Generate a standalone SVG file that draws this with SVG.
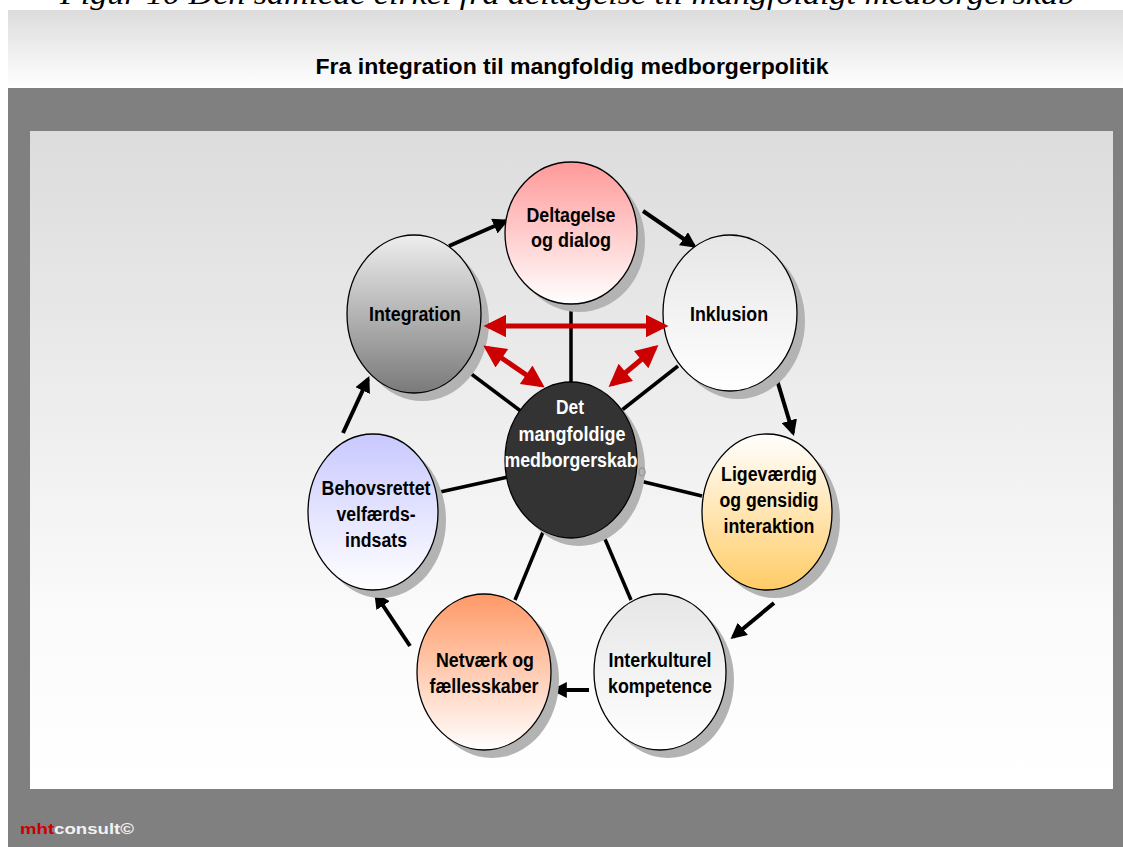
<svg xmlns="http://www.w3.org/2000/svg" width="1123" height="847" viewBox="0 0 1123 847">
<defs>
<linearGradient id="hdr" x1="0" y1="0" x2="0" y2="1"><stop offset="0" stop-color="#dcdcdc"/><stop offset="1" stop-color="#ffffff"/></linearGradient>
<linearGradient id="pnl" x1="0" y1="0" x2="0" y2="1"><stop offset="0" stop-color="#dcdcdc"/><stop offset="0.75" stop-color="#fbfbfb"/><stop offset="1" stop-color="#ffffff"/></linearGradient>
<linearGradient id="gPink" x1="0" y1="0" x2="0" y2="1"><stop offset="0" stop-color="#ff9999"/><stop offset="1" stop-color="#ffffff"/></linearGradient>
<linearGradient id="gLight" x1="0" y1="0" x2="0" y2="1"><stop offset="0" stop-color="#e6e6e6"/><stop offset="1" stop-color="#ffffff"/></linearGradient>
<linearGradient id="gGray" x1="0" y1="0" x2="0" y2="1"><stop offset="0" stop-color="#eeeeee"/><stop offset="1" stop-color="#7a7a7a"/></linearGradient>
<linearGradient id="gGold" x1="0" y1="0" x2="0" y2="1"><stop offset="0" stop-color="#ffffff"/><stop offset="1" stop-color="#ffcc66"/></linearGradient>
<linearGradient id="gBlue" x1="0" y1="0" x2="0" y2="1"><stop offset="0" stop-color="#c8c8ff"/><stop offset="1" stop-color="#ffffff"/></linearGradient>
<linearGradient id="gOrange" x1="0" y1="0" x2="0" y2="1"><stop offset="0" stop-color="#ff9966"/><stop offset="1" stop-color="#ffffff"/></linearGradient>
<marker id="ab" viewBox="0 0 10 10" refX="8" refY="5" markerWidth="4" markerHeight="4" orient="auto-start-reverse" markerUnits="strokeWidth"><path d="M0,0 L10,5 L0,10 z" fill="#000"/></marker>
<marker id="ar" viewBox="0 0 10 10" refX="8" refY="5" markerWidth="5" markerHeight="4.5" orient="auto-start-reverse" markerUnits="strokeWidth"><path d="M0,0 L10,5 L0,10 z" fill="#cc0000"/></marker>
<style>
.sh{fill:#b3b3b3}
.nd{stroke:#000;stroke-width:1.3}
.lb{font-family:"Liberation Sans",Arial,sans-serif;font-weight:bold;font-size:19.5px;fill:#000;text-anchor:middle}
.wt{fill:#fff}
.spoke{stroke:#000;stroke-width:3.5;fill:none}
.cyc{stroke:#000;stroke-width:4;fill:none;marker-end:url(#ab)}
.red{stroke:#cc0000;stroke-width:5;fill:none;marker-start:url(#ar);marker-end:url(#ar)}
</style>
</defs>
<rect width="1123" height="847" fill="#ffffff"/>
<text x="60" y="4" font-family="'Liberation Serif','Times New Roman',serif" font-style="italic" font-size="30" textLength="1015" lengthAdjust="spacingAndGlyphs" fill="#000">Figur 10 Den samlede cirkel fra deltagelse til mangfoldigt medborgerskab</text>
<rect x="8" y="10" width="1115" height="78" fill="url(#hdr)"/>
<text x="572" y="74" font-family="'Liberation Sans',Arial,sans-serif" font-weight="bold" font-size="22" text-anchor="middle" textLength="513" lengthAdjust="spacingAndGlyphs" fill="#000">Fra integration til mangfoldig medborgerpolitik</text>
<rect x="8" y="88" width="1115" height="759" fill="#808080"/>
<rect x="30" y="131" width="1083" height="658" fill="url(#pnl)"/>
<text x="20" y="834" font-family="'Liberation Sans',Arial,sans-serif" font-weight="bold" font-size="15" textLength="114" lengthAdjust="spacingAndGlyphs"><tspan fill="#cc0000">mht</tspan><tspan fill="#f2f2f2">consult©</tspan></text>

<g id="connectors">
<line class="spoke" x1="571" y1="304" x2="571" y2="384"/>
<line class="spoke" x1="466" y1="370" x2="522" y2="412"/>
<line class="spoke" x1="678" y1="366" x2="622" y2="410"/>
<line class="spoke" x1="440" y1="492" x2="508" y2="477"/>
<line class="spoke" x1="636" y1="480" x2="702" y2="496"/>
<line class="spoke" x1="515" y1="600" x2="543" y2="532"/>
<line class="spoke" x1="631" y1="600" x2="602" y2="532"/>
<line class="cyc" x1="449" y1="246" x2="506" y2="221"/>
<line class="cyc" x1="643" y1="211" x2="694" y2="246"/>
<line class="cyc" x1="777" y1="380" x2="793" y2="433"/>
<line class="cyc" x1="774" y1="603" x2="733" y2="637"/>
<line class="cyc" x1="589" y1="690" x2="554" y2="690"/>
<line class="cyc" x1="410" y1="646" x2="376" y2="595"/>
<line class="cyc" x1="343" y1="433" x2="368" y2="379"/>
</g>

<g id="n-deltagelse"><ellipse class="sh" cx="579" cy="241" rx="66" ry="71"/><ellipse class="nd" cx="571" cy="233" rx="66" ry="71" fill="url(#gPink)"/><text class="lb" x="571" y="222" textLength="89" lengthAdjust="spacingAndGlyphs">Deltagelse</text><text class="lb" x="571" y="247" textLength="80" lengthAdjust="spacingAndGlyphs">og dialog</text></g>
<g id="n-inklusion"><ellipse class="sh" cx="738" cy="321" rx="67" ry="78"/><ellipse class="nd" cx="730" cy="313" rx="67" ry="78" fill="url(#gLight)"/><text class="lb" x="729" y="321" textLength="78" lengthAdjust="spacingAndGlyphs">Inklusion</text></g>
<g id="n-integration"><ellipse class="sh" cx="422" cy="322" rx="67" ry="79"/><ellipse class="nd" cx="414" cy="314" rx="67" ry="79" fill="url(#gGray)"/><text class="lb" x="415" y="321" textLength="92" lengthAdjust="spacingAndGlyphs">Integration</text></g>
<g id="n-ligevaerdig"><ellipse class="sh" cx="775" cy="520" rx="65" ry="78"/><ellipse class="nd" cx="767" cy="512" rx="65" ry="78" fill="url(#gGold)"/><text class="lb" x="769" y="481" textLength="96" lengthAdjust="spacingAndGlyphs">Ligeværdig</text><text class="lb" x="769" y="507" textLength="99" lengthAdjust="spacingAndGlyphs">og gensidig</text><text class="lb" x="769" y="533" textLength="91" lengthAdjust="spacingAndGlyphs">interaktion</text></g>
<g id="n-behovsrettet"><ellipse class="sh" cx="381" cy="520" rx="65" ry="78"/><ellipse class="nd" cx="373" cy="512" rx="65" ry="78" fill="url(#gBlue)"/><text class="lb" x="376" y="495" textLength="109" lengthAdjust="spacingAndGlyphs">Behovsrettet</text><text class="lb" x="376" y="521" textLength="79" lengthAdjust="spacingAndGlyphs">velfærds-</text><text class="lb" x="376" y="547" textLength="62" lengthAdjust="spacingAndGlyphs">indsats</text></g>
<g id="n-interkulturel"><ellipse class="sh" cx="668" cy="680" rx="66" ry="78"/><ellipse class="nd" cx="660" cy="672" rx="66" ry="78" fill="url(#gLight)"/><text class="lb" x="660" y="667" textLength="103" lengthAdjust="spacingAndGlyphs">Interkulturel</text><text class="lb" x="660" y="693" textLength="104" lengthAdjust="spacingAndGlyphs">kompetence</text></g>
<g id="n-netvaerk"><ellipse class="sh" cx="492" cy="680" rx="67" ry="78"/><ellipse class="nd" cx="484" cy="672" rx="67" ry="78" fill="url(#gOrange)"/><text class="lb" x="485" y="667" textLength="98" lengthAdjust="spacingAndGlyphs">Netværk og</text><text class="lb" x="484" y="693" textLength="109" lengthAdjust="spacingAndGlyphs">fællesskaber</text></g>
<g id="n-center"><ellipse class="sh" cx="579" cy="468" rx="66" ry="78"/><ellipse class="nd" cx="571" cy="460" rx="66" ry="78" fill="#333333"/><ellipse cx="642" cy="472" rx="3" ry="4" fill="none" stroke="#999" stroke-width="1.5"/><text class="lb wt" x="570" y="414" textLength="28" lengthAdjust="spacingAndGlyphs">Det</text><text class="lb wt" x="572" y="441" textLength="107" lengthAdjust="spacingAndGlyphs">mangfoldige</text><text class="lb wt" x="571" y="467" textLength="133" lengthAdjust="spacingAndGlyphs">medborgerskab</text></g>

<g id="red-connectors">
<line class="red" x1="488" y1="326" x2="664" y2="326"/>
<line class="red" x1="487" y1="348" x2="541" y2="385"/>
<line class="red" x1="655" y1="348" x2="612" y2="384"/>
</g>
</svg>
